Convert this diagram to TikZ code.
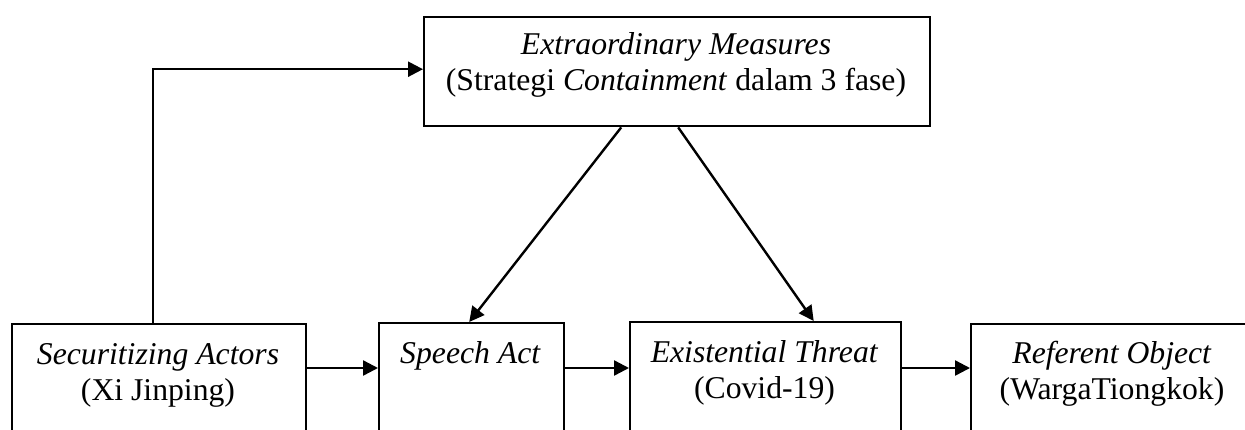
\documentclass[tikz,border=0pt]{standalone}
\usepackage{fontspec}
\setmainfont{Liberation Serif}
\usetikzlibrary{arrows.meta}
\begin{document}
\begin{tikzpicture}[x=0.5pt,y=-0.5pt,
  box/.style={draw, line width=1.2pt, anchor=north west, inner sep=0pt},
  txt/.style={anchor=base, inner sep=0pt, font=\fontsize{15.85}{18}\selectfont},
  arr/.style={line width=1.2pt, -{Triangle[length=7.5pt,width=7.5pt]}}]
\useasboundingbox (0,0) rectangle (1245,429);
\clip (0,0) rectangle (1245,429);
% boxes
\node[box, minimum width=253pt, minimum height=54.5pt] (top) at (423,16) {};
\node[box, minimum width=147pt, minimum height=100pt] (b1) at (11,323) {};
\node[box, minimum width=92.5pt, minimum height=100pt] (b2) at (378,322) {};
\node[box, minimum width=135.5pt, minimum height=100pt] (b3) at (629,321) {};
\node[box, minimum width=145pt, minimum height=100pt] (b4) at (970,323) {};
% texts
\node[txt] (top1) at (676,54.5) {\textit{Extraordinary Measures}};
\node[txt] (top2) at (676,90.5) {(Strategi \textit{Containment} dalam 3 fase)};
\node[txt] (b1a) at (158,364) {\textit{Securitizing Actors}};
\node[txt] (b1b) at (158,400) {(Xi Jinping)};
\node[txt] (b2a) at (470.5,363) {\textit{Speech Act}};
\node[txt] (b3a) at (764.5,362) {\textit{Existential Threat}};
\node[txt] (b3b) at (764.5,398) {(Covid-19)};
\node[txt] (b4a) at (1112,363) {\textit{Referent Object}};
\node[txt] (b4b) at (1112,399) {(WargaTiongkok)};
% connectors
\draw[arr] ([xshift=-3pt]b1.north) |- ([yshift=1.25pt]top.west);
\draw[arr] ([xshift=-28pt]top.south) -- ([xshift=-1.25pt]b2.north);
\draw[arr] ([xshift=0.5pt]top.south) -- ([xshift=24pt]b3.north);
\draw[arr] ([yshift=-22.5pt]b1.north east) -- ([yshift=-22.5pt]b1.north east -| b2.west);
\draw[arr] ([yshift=-23pt]b2.north east) -- ([yshift=-23pt]b2.north east -| b3.west);
\draw[arr] ([yshift=-23.5pt]b3.north east) -- ([yshift=-23.5pt]b3.north east -| b4.west);
\end{tikzpicture}
\end{document}
